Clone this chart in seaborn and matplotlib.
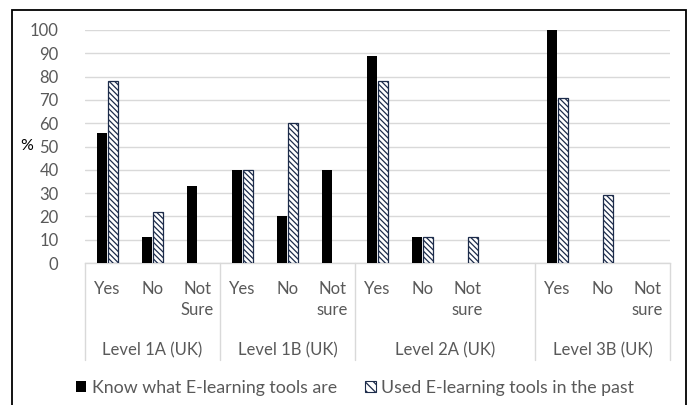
import numpy as np
import pandas as pd
import matplotlib
matplotlib.use("Agg")
import matplotlib.pyplot as plt
import matplotlib.transforms as mtransforms
from matplotlib.patches import Rectangle, Patch
from matplotlib.lines import Line2D
import seaborn as sns

# ---------------- data ----------------
groups = ["Level 1A (UK)", "Level 1B (UK)", "Level 2A (UK)", "Level 3B (UK)"]
answers_1a = ["Yes", "No", "Not\nSure"]
answers_1b = ["Yes", "No", "Not\nsure"]
answers_2a = ["Yes", "No", "Not\nsure", ""]
answers_3b = ["Yes", "No", "Not\nsure"]
know_1a = [56, 11, 33]
used_1a = [78, 22, 0]
know_1b = [40, 20, 40]
used_1b = [40, 60, 0]
know_2a = [89, 11, 0, 0]
used_2a = [78, 11, 11, 0]
know_3b = [100, 0, 0]
used_3b = [71, 29, 0]
series = ["Know what E-learning tools are", "Used E-learning tools in the past"]
y_ticks = [0, 10, 20, 30, 40, 50, 60, 70, 80, 90, 100]

answers = [answers_1a, answers_1b, answers_2a, answers_3b]
knows = [know_1a, know_1b, know_2a, know_3b]
useds = [used_1a, used_1b, used_2a, used_3b]

rows = []
slots = []
slot_labels = []
group_sizes = []
for g, (grp, ans, kn, us) in enumerate(zip(groups, answers, knows, useds)):
    group_sizes.append(len(ans))
    for i, a in enumerate(ans):
        sid = f"{g}_{i}"
        slots.append(sid)
        slot_labels.append(a)
        rows.append({"slot": sid, "series": series[0], "value": kn[i]})
        rows.append({"slot": sid, "series": series[1], "value": us[i]})
df = pd.DataFrame(rows)

# ---------------- style ----------------
sns.set_theme(style="white")
plt.rcParams["font.family"] = ["Lato", "DejaVu Sans"]
plt.rcParams["hatch.linewidth"] = 0.9
GRAY = "#595959"
GRID = "#D9D9D9"
NAVY = "#1C2B4A"
FS = 12

fig = plt.figure(figsize=(6.9, 4.05), dpi=100)
ax = fig.add_axes([85 / 690, 1 - 263 / 405, 585 / 690, 233 / 405])

sns.barplot(data=df, x="slot", y="value", hue="series", order=slots,
            hue_order=series, palette=["black", "white"], saturation=1,
            width=0.49, gap=0.1, legend=False, ax=ax, zorder=3)

hatch = "\\\\\\\\\\\\"
for p in ax.containers[0].patches:
    p.set_edgecolor("black")
    p.set_linewidth(0)
    if p.get_height() == 0:
        p.set_visible(False)
for p in ax.containers[1].patches:
    p.set_facecolor("white")
    p.set_edgecolor(NAVY)
    p.set_linewidth(0.9)
    p.set_hatch(hatch)
    if hasattr(p, "set_hatchcolor"):
        p.set_hatchcolor("#202020")
    if p.get_height() == 0:
        p.set_visible(False)

ax.set_ylim(0, 100)
ax.set_xlim(-0.5, len(slots) - 0.5)
ax.set_yticks(y_ticks)
ax.yaxis.grid(True, color=GRID, linewidth=1.0, zorder=0)
ax.set_axisbelow(True)
for s in ["top", "right", "left"]:
    ax.spines[s].set_visible(False)
ax.spines["bottom"].set_color(GRID)
ax.spines["bottom"].set_linewidth(1.0)
ax.tick_params(axis="y", length=0, pad=19, labelsize=FS, labelcolor=GRAY)
ax.tick_params(axis="x", length=0, labelbottom=False)
ax.set_xlabel("")
ax.set_ylabel("")

ax.text(-0.1, 50, "%", transform=mtransforms.blended_transform_factory(ax.transAxes, ax.transData),
        ha="center", va="center", fontsize=FS - 0.5, color="black")

trans = mtransforms.blended_transform_factory(ax.transData, ax.transAxes)
for i, lab in enumerate(slot_labels):
    ax.text(i, -0.078, lab, transform=trans, ha="center", va="top",
            multialignment="center", fontsize=FS, color=GRAY, linespacing=1.35)

start = 0
bounds = [-0.5]
for g, n in enumerate(group_sizes):
    center = start + (n - 1) / 2
    ax.text(center, -0.373, groups[g], transform=trans, ha="center", va="center",
            fontsize=FS, color=GRAY)
    start += n
    bounds.append(start - 0.5)
for b in bounds:
    ax.add_line(Line2D([b, b], [0, -0.416], transform=trans, color=GRID,
                       linewidth=1.0, clip_on=False))

handles = [Patch(facecolor="black", edgecolor="black", linewidth=0),
           Patch(facecolor="white", edgecolor=NAVY, hatch="\\\\\\\\", linewidth=0.8)]
fig.legend(handles, series, loc="center", bbox_to_anchor=(355 / 690, 1 - 388 / 405),
           ncol=2, frameon=False, fontsize=FS + 0.8, labelcolor=GRAY,
           handlelength=0.6, handleheight=0.6, handletextpad=0.3,
           columnspacing=1.6, borderpad=0)

fig.add_artist(Rectangle((12 / 690, -0.05), 674 / 690, 1.05 - 10 / 405,
                         transform=fig.transFigure, fill=False,
                         edgecolor="black", linewidth=1.3))

fig.savefig("out.png", dpi=100)
